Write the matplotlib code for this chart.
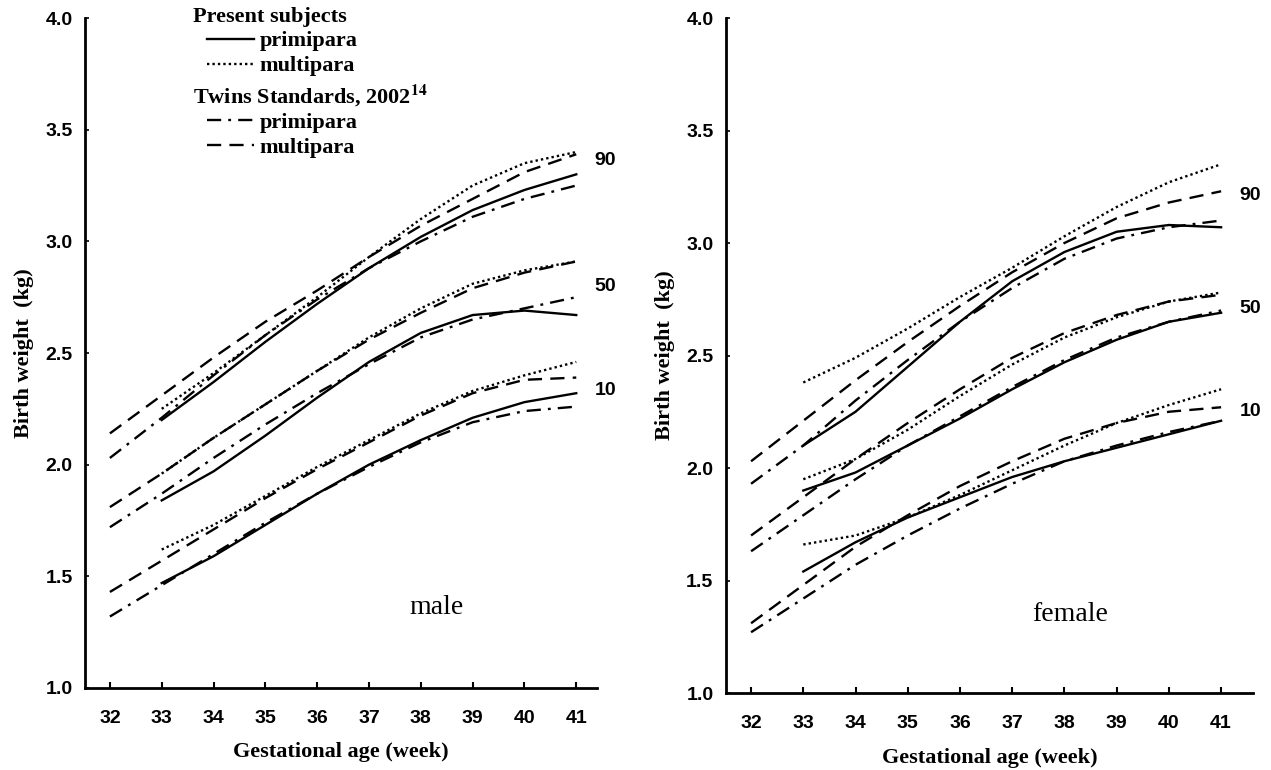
import matplotlib
matplotlib.use('Agg')
import matplotlib.pyplot as plt
from matplotlib.lines import Line2D

# gestational weeks
weeks = [32, 33, 34, 35, 36, 37, 38, 39, 40, 41]
weeks_ps = [33, 34, 35, 36, 37, 38, 39, 40, 41]   # present subjects start at 33

# ---- male ----
# present subjects
m90_prim = [2.20, 2.37, 2.55, 2.72, 2.88, 3.02, 3.14, 3.23, 3.30]
m90_multi = [2.25, 2.41, 2.58, 2.75, 2.93, 3.10, 3.25, 3.35, 3.40]
m50_prim = [1.84, 1.97, 2.13, 2.30, 2.46, 2.59, 2.67, 2.69, 2.67]
m50_multi = [1.96, 2.12, 2.27, 2.42, 2.57, 2.70, 2.81, 2.87, 2.91]
m10_prim = [1.47, 1.59, 1.73, 1.87, 2.00, 2.11, 2.21, 2.28, 2.32]
m10_multi = [1.62, 1.73, 1.86, 1.99, 2.11, 2.23, 2.33, 2.40, 2.46]
# twins standards 2002
m90_std_prim = [2.03, 2.21, 2.40, 2.58, 2.74, 2.88, 3.00, 3.11, 3.19, 3.25]
m90_std_multi = [2.14, 2.31, 2.48, 2.64, 2.78, 2.93, 3.07, 3.19, 3.31, 3.39]
m50_std_prim = [1.72, 1.87, 2.03, 2.18, 2.32, 2.45, 2.57, 2.65, 2.70, 2.75]
m50_std_multi = [1.81, 1.96, 2.12, 2.27, 2.42, 2.56, 2.68, 2.79, 2.86, 2.91]
m10_std_prim = [1.32, 1.46, 1.60, 1.74, 1.87, 1.99, 2.10, 2.19, 2.24, 2.26]
m10_std_multi = [1.43, 1.57, 1.71, 1.85, 1.98, 2.10, 2.22, 2.32, 2.38, 2.39]

# ---- female ----
f90_prim = [2.10, 2.25, 2.45, 2.65, 2.83, 2.96, 3.05, 3.08, 3.07]
f90_multi = [2.38, 2.49, 2.62, 2.76, 2.89, 3.03, 3.16, 3.27, 3.35]
f50_prim = [1.90, 1.98, 2.10, 2.22, 2.35, 2.47, 2.57, 2.65, 2.69]
f50_multi = [1.95, 2.04, 2.17, 2.32, 2.46, 2.58, 2.67, 2.74, 2.78]
f10_prim = [1.54, 1.67, 1.78, 1.87, 1.96, 2.03, 2.09, 2.15, 2.21]
f10_multi = [1.66, 1.70, 1.78, 1.88, 1.99, 2.10, 2.20, 2.28, 2.35]
f90_std_prim = [1.93, 2.10, 2.30, 2.48, 2.65, 2.80, 2.93, 3.02, 3.07, 3.10]
f90_std_multi = [2.03, 2.21, 2.39, 2.56, 2.72, 2.87, 3.00, 3.11, 3.18, 3.23]
f50_std_prim = [1.63, 1.79, 1.95, 2.10, 2.23, 2.36, 2.48, 2.58, 2.65, 2.70]
f50_std_multi = [1.70, 1.87, 2.04, 2.20, 2.35, 2.49, 2.60, 2.68, 2.74, 2.77]
f10_std_prim = [1.27, 1.42, 1.57, 1.70, 1.82, 1.93, 2.03, 2.10, 2.16, 2.21]
f10_std_multi = [1.31, 1.48, 1.65, 1.79, 1.92, 2.03, 2.13, 2.20, 2.25, 2.27]

pct_labels = ['90', '50', '10']
m_pct_y = [3.36, 2.80, 2.33]
f_pct_y = [3.21, 2.71, 2.25]

ytick_vals = [1.0, 1.5, 2.0, 2.5, 3.0, 3.5, 4.0]
ytick_lbls = ['1.0', '1.5', '2.0', '2.5', '3.0', '3.5', '4.0']

serif = 'Liberation Serif'
sans = 'Liberation Sans'
plt.rcParams['mathtext.fontset'] = 'stix'

LW = 1.7
st_solid = '-'
st_dot = (0, (1, 1.3))
st_dashdot = (0, (6, 3, 1.2, 3))
st_dash = (0, (6, 3.5))

fig = plt.figure(figsize=(12.71, 7.70), dpi=100)
ax1 = fig.add_axes([0.0669, 0.1065, 0.4028, 0.8701])
ax2 = fig.add_axes([0.5712, 0.1000, 0.4146, 0.8766])


def draw(ax, ps, std, pct_y, sex_lbl, sex_xy, xmax):
    for prim, multi in ps:
        ax.plot(weeks_ps, prim, color='black', lw=LW, linestyle=st_solid)
        ax.plot(weeks_ps, multi, color='black', lw=LW, linestyle=st_dot)
    for prim, multi in std:
        ax.plot(weeks, prim, color='black', lw=LW, linestyle=st_dashdot)
        ax.plot(weeks, multi, color='black', lw=LW, linestyle=st_dash)
    for lbl, yy in zip(pct_labels, pct_y):
        ax.text(41.56, yy, lbl, fontsize=14, fontweight='bold', family=sans,
                ha='center', va='center', clip_on=False)
    ax.text(sex_xy[0], sex_xy[1], sex_lbl, fontsize=20, family=serif,
            ha='center', va='center')

    ax.set_xlim(31.52, xmax)
    ax.set_ylim(1.0, 4.0)
    ax.set_xticks(weeks)
    ax.set_yticks(ytick_vals)
    ax.set_yticklabels(ytick_lbls)
    for s in ['top', 'right']:
        ax.spines[s].set_visible(False)
    for s in ['left', 'bottom']:
        ax.spines[s].set_linewidth(2)
    ax.tick_params(axis='x', direction='in', length=4, width=1.5, pad=16, labelsize=14)
    ax.tick_params(axis='y', direction='in', length=3, width=1.2, pad=9, labelsize=14)
    for t in ax.get_xticklabels() + ax.get_yticklabels():
        t.set_family(sans)
        t.set_fontweight('bold')
    ax.set_xlabel('Gestational age (week)', family=serif, fontweight='bold',
                  fontsize=16, labelpad=11)
    ax.set_ylabel('Birth weight  (kg)', family=serif, fontweight='bold',
                  fontsize=16, labelpad=8)


draw(ax1,
     [(m90_prim, m90_multi), (m50_prim, m50_multi), (m10_prim, m10_multi)],
     [(m90_std_prim, m90_std_multi), (m50_std_prim, m50_std_multi),
      (m10_std_prim, m10_std_multi)],
     m_pct_y, 'male', (38.3, 1.36), 41.4)
draw(ax2,
     [(f90_prim, f90_multi), (f50_prim, f50_multi), (f10_prim, f10_multi)],
     [(f90_std_prim, f90_std_multi), (f50_std_prim, f50_std_multi),
      (f10_std_prim, f10_std_multi)],
     f_pct_y, 'female', (38.1, 1.35), 41.61)

# legend (male panel only)
leg_font = {'family': serif, 'weight': 'bold', 'size': 16}
ax1.text(0.211, 1.0015, 'Present subjects', transform=ax1.transAxes,
         ha='left', va='center', family=serif, fontweight='bold', fontsize=16)
ax1.text(0.211, 0.884, 'Twins Standards, 2002$^{\\mathbf{14}}$', transform=ax1.transAxes,
         ha='left', va='center', family=serif, fontweight='bold', fontsize=16)
h1 = [Line2D([], [], color='black', lw=LW, linestyle=st_solid),
      Line2D([], [], color='black', lw=LW, linestyle=st_dot)]
h2 = [Line2D([], [], color='black', lw=LW, linestyle=st_dashdot),
      Line2D([], [], color='black', lw=LW, linestyle=st_dash)]
leg1 = ax1.legend(h1, ['primipara', 'multipara'],
                  loc='upper left', bbox_to_anchor=(0.238, 0.981), frameon=False,
                  prop=leg_font, handlelength=2.1, handletextpad=0.27,
                  labelspacing=0.2, borderpad=0, borderaxespad=0)
ax1.add_artist(leg1)
ax1.legend(h2, ['primipara', 'multipara'],
           loc='upper left', bbox_to_anchor=(0.238, 0.859), frameon=False,
           prop=leg_font, handlelength=2.1, handletextpad=0.27,
           labelspacing=0.2, borderpad=0, borderaxespad=0)

fig.savefig('out.png', dpi=100)
